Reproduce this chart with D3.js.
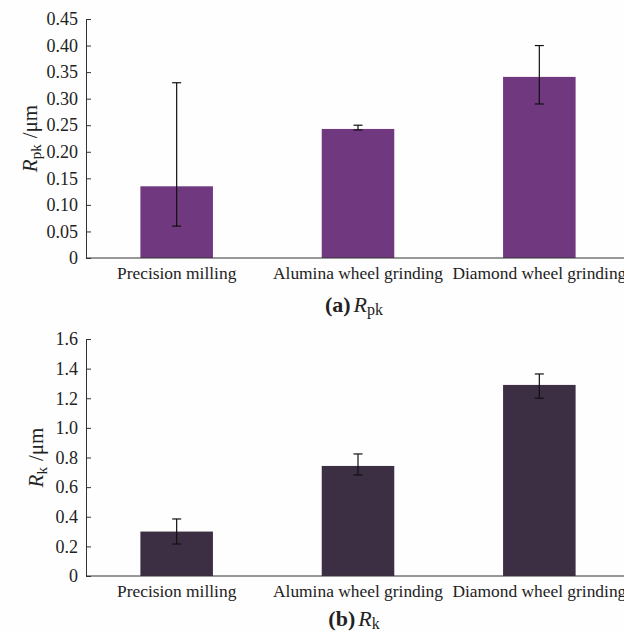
<!DOCTYPE html>
<html>
<head>
<meta charset="utf-8">
<script src="https://cdn.jsdelivr.net/npm/d3@7"></script>
<style>
body { margin:0; background:#fefefe; }
svg { display:block; }
text { font-family:"Liberation Serif","Times New Roman",serif; fill:#222; }
</style>
</head>
<body>
<svg id="fig"></svg>
<script>
var processes = ["Precision milling", "Alumina wheel grinding", "Diamond wheel grinding"]

// (a) Rpk, um
var rpkMean = [0.135, 0.243, 0.341]
var rpkLow  = [0.060, 0.241, 0.290]
var rpkHigh = [0.330, 0.250, 0.400]
var rpkTicks = [0, 0.05, 0.10, 0.15, 0.20, 0.25, 0.30, 0.35, 0.40, 0.45]

// (b) Rk, um
var rkMean = [0.30, 0.743, 1.29]
var rkLow  = [0.216, 0.682, 1.20]
var rkHigh = [0.385, 0.824, 1.364]
var rkTicks = [0, 0.2, 0.4, 0.6, 0.8, 1.0, 1.2, 1.4, 1.6]

var screen = {width:624, height:631}

var svg = d3.select("#fig")
    .attr("width", screen.width)
    .attr("height", screen.height)

var drawPanel = function(opt)
{
    var g = svg.append("g")

    var xScale = d3.scaleBand()
        .domain(processes)
        .range([86, 630])
        .paddingInner(0.6)
        .paddingOuter(0.3)

    var yScale = d3.scaleLinear()
        .domain([0, opt.max])
        .range([opt.bottom, opt.top])

    var data = processes.map(function(p, i) {
        return {name:p, mean:opt.mean[i], low:opt.low[i], high:opt.high[i]}
    })

    // bars
    g.selectAll("rect")
        .data(data)
        .enter()
        .append("rect")
        .attr("x", function(d){ return xScale(d.name) })
        .attr("width", xScale.bandwidth())
        .attr("y", function(d){ return yScale(d.mean) })
        .attr("height", function(d){ return yScale(0) - yScale(d.mean) })
        .attr("fill", opt.color)

    // error bars
    var err = g.selectAll(".err")
        .data(data)
        .enter()
        .append("g")
        .attr("class", "err")
        .attr("stroke", "#111")
        .attr("stroke-width", 1.2)
    err.append("line")
        .attr("x1", function(d){ return xScale(d.name) + xScale.bandwidth()/2 })
        .attr("x2", function(d){ return xScale(d.name) + xScale.bandwidth()/2 })
        .attr("y1", function(d){ return yScale(d.low) })
        .attr("y2", function(d){ return yScale(d.high) })
    ;["low","high"].forEach(function(k){
        err.append("line")
            .attr("x1", function(d){ return xScale(d.name) + xScale.bandwidth()/2 - 4.5 })
            .attr("x2", function(d){ return xScale(d.name) + xScale.bandwidth()/2 + 4.5 })
            .attr("y1", function(d){ return yScale(d[k]) })
            .attr("y2", function(d){ return yScale(d[k]) })
    })

    // y axis, ticks pointing inward
    var yAxis = d3.axisLeft(yScale)
        .tickValues(opt.ticks)
        .tickFormat(function(v){ return v === 0 ? "0" : d3.format(opt.fmt)(v) })
        .tickSizeInner(-5)
        .tickSizeOuter(0)
        .tickPadding(8)
    var ya = g.append("g")
        .attr("transform", "translate(86,0)")
        .call(yAxis)
    ya.selectAll("text").style("font-size", "18px").style("font-family", "Liberation Serif").attr("fill", "#2a2a2a")
    ya.selectAll("line, path").attr("stroke", "#333")

    // x axis, no ticks
    var xAxis = d3.axisBottom(xScale).tickSize(0).tickPadding(9)
    var xa = g.append("g")
        .attr("transform", "translate(0," + opt.bottom + ")")
        .call(xAxis)
    xa.select(".domain").attr("d", "M86,0H624").attr("stroke", "#333")
    xa.selectAll("text").style("font-size", "17.4px").style("font-family", "Liberation Serif").attr("fill", "#2a2a2a")

    // y label
    var yl = g.append("text")
        .attr("transform", "translate(" + opt.ylabX + "," + ((opt.top + opt.bottom)/2) + ") rotate(-90)")
        .attr("text-anchor", "middle")
        .style("font-size", "21px")
    yl.append("tspan").attr("font-style", "italic").text("R")
    yl.append("tspan").attr("baseline-shift", "-25%").style("font-size", "15px").text(opt.sub)
    yl.append("tspan").attr("dx", 6).attr("baseline-shift", "0").text("/μm")

    // caption
    var cap = g.append("text")
        .attr("x", 354)
        .attr("y", opt.capY)
        .attr("text-anchor", "middle")
        .style("font-size", "22px")
    cap.append("tspan").attr("font-weight", "bold").text("(" + opt.letter + ")")
    cap.append("tspan").attr("dx", 3).attr("font-style", "italic").text("R")
    cap.append("tspan").attr("baseline-shift", "-3").style("font-size", "16px").text(opt.sub)
}

drawPanel({mean:rpkMean, low:rpkLow, high:rpkHigh, ticks:rpkTicks, max:0.45, fmt:".2f",
    top:19, bottom:258, color:"#70387f", sub:"pk", letter:"a", ylabX:37, capY:312})
drawPanel({mean:rkMean, low:rkLow, high:rkHigh, ticks:rkTicks, max:1.6, fmt:".1f",
    top:339, bottom:576, color:"#3c2e43", sub:"k", letter:"b", ylabX:43, capY:626})
</script>
</body>
</html>
